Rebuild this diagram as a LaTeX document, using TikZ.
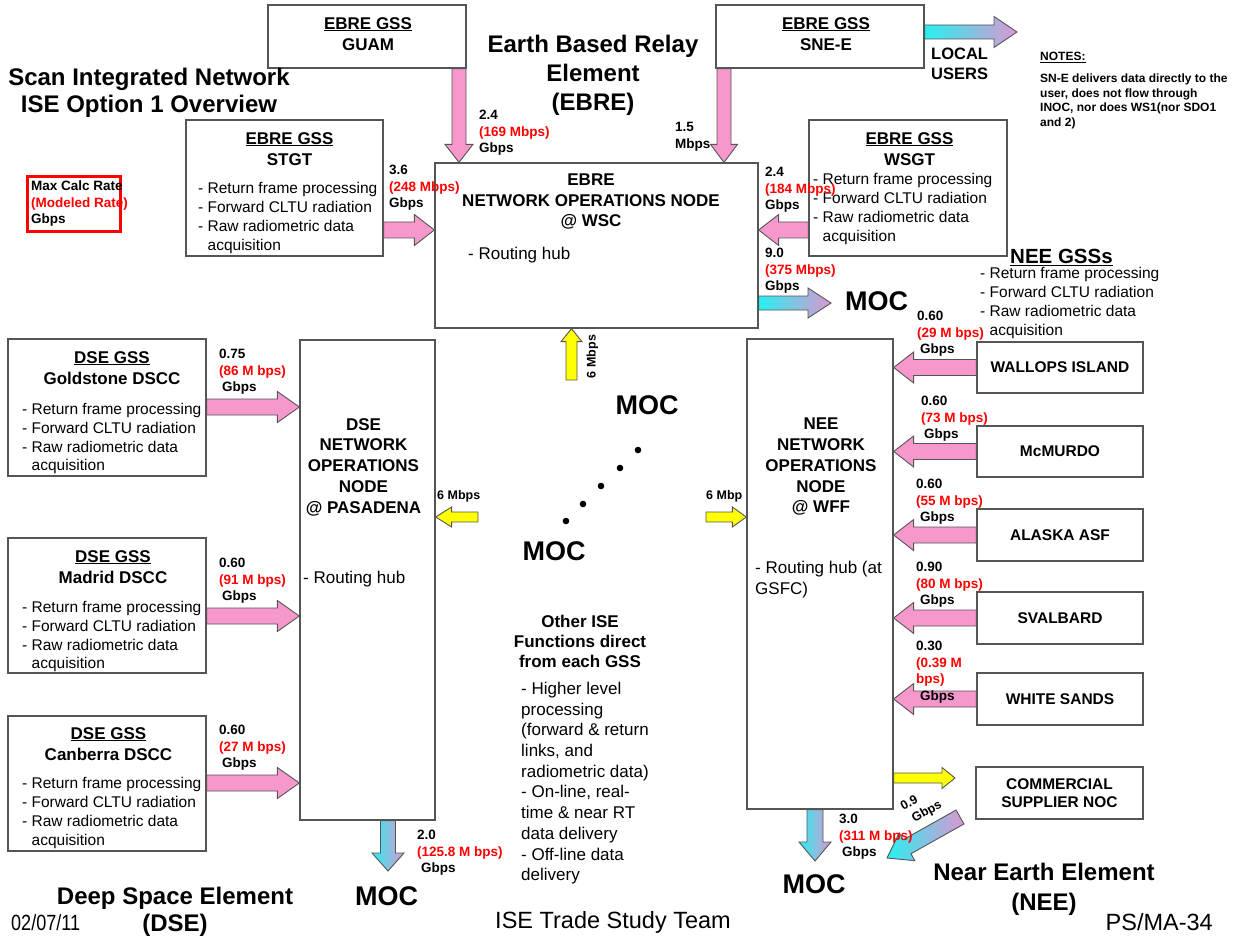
\documentclass[tikz,border=0pt]{standalone}
\usepackage{fontspec}
\setmainfont{Liberation Sans}
\usetikzlibrary{calc}

\definecolor{boxgray}{RGB}{85,85,85}
\definecolor{arrpink}{RGB}{247,152,204}
\definecolor{arrcyan}{RGB}{40,240,240}
\definecolor{arrlilac}{RGB}{220,150,210}
\definecolor{arryel}{RGB}{255,255,0}

\newcommand{\rd}[1]{\textcolor{red}{#1}}
% block arrow: [style]{from}{to}{shaft half}{head half}{head length}
\newcommand{\blk}[6][pinkarr]{%
  \coordinate (bt) at (#2);
  \coordinate (bh) at (#3);
  \coordinate (bb) at ($(bh)!#6!(bt)$);
  \draw[#1] ($(bt)!#4!90:(bh)$) -- ($(bb)!#4!-90:(bt)$)
    -- ($(bb)!#5!-90:(bt)$) -- (bh) -- ($(bb)!#5!90:(bt)$)
    -- ($(bb)!#4!90:(bt)$) -- ($(bt)!#4!-90:(bh)$) -- cycle;
}

\tikzset{pix/.style={x=1pt,y=-1pt}}
\tikzset{gss/.style={
  draw=boxgray,
  fill=white,
  line width=1.3pt,
  inner sep=0pt,
}}
\tikzset{hd/.style={font=\fontsize{17}{21}\selectfont\bfseries, align=center, inner sep=0pt, anchor=north}}
\tikzset{bul/.style={font=\fontsize{15.5}{19}\selectfont, align=left, inner sep=0pt, anchor=north west}}
\tikzset{txt/.style={font=\fontsize{17}{20.7}\selectfont, align=left, inner sep=0pt, anchor=north west}}
\tikzset{rate/.style={font=\fontsize{13.5}{16.5}\selectfont\bfseries, align=left, inner sep=0pt, anchor=north west}}
\tikzset{site/.style={font=\fontsize{15.5}{17.5}\selectfont\bfseries, align=center, inner sep=0pt}}
\tikzset{big/.style={font=\fontsize{24}{27}\selectfont\bfseries, align=center, inner sep=0pt, anchor=north}}
\tikzset{moc/.style={font=\fontsize{27}{32}\selectfont\bfseries, inner sep=0pt}}
\tikzset{sml/.style={font=\fontsize{12.5}{15}\selectfont\bfseries, align=left, inner sep=0pt}}
\tikzset{foot/.style={font=\fontsize{23.5}{28}\selectfont, inner sep=0pt}}
\tikzset{pinkarr/.style={draw=boxgray, fill=arrpink, line width=0.9pt}}
\tikzset{yelarr/.style={draw=boxgray, fill=arryel, line width=0.9pt}}
\tikzset{gradarr/.style={draw=boxgray, left color=arrcyan, right color=arrlilac, line width=0.9pt}}

\begin{document}
\begin{tikzpicture}[pix]
  \fill[white] (0,0) rectangle (1237,936);
  \useasboundingbox (0,0) rectangle (1237,936);

  %% Boxes

  % EBRE ground stations and node
  \node[gss, minimum width=198, minimum height=63] (guam) at (367,36.5) {};
  \node[gss, minimum width=208, minimum height=63] (snee) at (820,36.5) {};
  \node[gss, minimum width=197, minimum height=136] (stgt) at (284.5,188) {};
  \node[gss, minimum width=198, minimum height=136] (wsgt) at (908,188) {};
  \node[gss, minimum width=323, minimum height=165] (ebre) at (596.5,245.5) {};

  % DSE
  \node[gss, minimum width=135, minimum height=480] (dse) at (367.5,580) {};
  \node[gss, minimum width=198, minimum height=137] (gold) at (107,407.5) {};
  \node[gss, minimum width=198, minimum height=135] (madr) at (107,605.5) {};
  \node[gss, minimum width=198, minimum height=135] (canb) at (107,783.5) {};

  % NEE
  \node[gss, minimum width=146, minimum height=470] (nee) at (820,574) {};
  \node[gss, minimum width=166, minimum height=51] (wall) at (1060,367.5) {};
  \node[gss, minimum width=166, minimum height=51] (mcm) at (1060,451.5) {};
  \node[gss, minimum width=166, minimum height=52] (ask) at (1060,535) {};
  \node[gss, minimum width=166, minimum height=52] (sval) at (1060,618) {};
  \node[gss, minimum width=166, minimum height=52] (wsnd) at (1060,699) {};
  \node[gss, minimum width=167, minimum height=52] (comm) at (1059.5,793) {};

  % legend
  \node[draw=red, line width=3pt, minimum width=93, minimum height=55, inner sep=0pt] (leg) at (73.5,204.5) {};

  %% Block arrows

  \blk{459,0 |- guam.south}{459,0 |- ebre.north}{7pt}{14pt}{18pt}
  \blk{724,0 |- snee.south}{724,0 |- ebre.north}{7pt}{13.5pt}{18pt}
  \coordinate (lusr) at (1017,32);
  \blk[gradarr]{snee.east |- 0,32}{lusr}{7pt}{15.5pt}{23pt}
  \blk{stgt.east |- 0,230}{ebre.west |- 0,230}{8pt}{15.5pt}{20pt}
  \blk{wsgt.west |- 0,230}{ebre.east |- 0,230}{8pt}{15.5pt}{20pt}
  \coordinate (moce) at (831,303);
  \blk[gradarr]{ebre.east |- 0,303}{moce}{7pt}{15pt}{23pt}

  % yellow links between nodes
  \coordinate (yu) at (571.5,380);
  \blk[yelarr]{yu}{571.5,0 |- ebre.south}{5.5pt}{10.5pt}{13pt}
  \coordinate (yl) at (478,517);
  \blk[yelarr]{yl}{dse.east |- 0,517}{5pt}{10pt}{16pt}
  \coordinate (yr) at (706,517);
  \blk[yelarr]{yr}{nee.west |- 0,517}{5pt}{10pt}{14pt}
  \coordinate (yc) at (955,778);
  \blk[yelarr]{nee.east |- 0,778}{yc}{5pt}{10.5pt}{13pt}

  % DSE stations
  \blk{gold.east |- 0,407}{dse.west |- 0,407}{8pt}{15.5pt}{22pt}
  \blk{madr.east |- 0,616}{dse.west |- 0,616}{8pt}{15.5pt}{22pt}
  \blk{canb.east |- 0,783}{dse.west |- 0,783}{8pt}{15.5pt}{22pt}

  % NEE stations
  \foreach \s in {wall,mcm,ask,sval,wsnd}{
    \blk{\s.west}{nee.east |- \s.west}{8pt}{15.5pt}{20pt}
  }

  % to the MOCs
  \coordinate (mocd) at (388,871);
  \blk[gradarr]{388,0 |- dse.south}{mocd}{7.5pt}{16pt}{18pt}
  \coordinate (mocn) at (815,861);
  \blk[gradarr]{815,0 |- nee.south}{mocn}{8pt}{16pt}{19pt}
  \coordinate (ctl) at (960,817);
  \coordinate (ctp) at (887,858);
  \blk[gradarr]{ctl}{ctp}{8pt}{16pt}{23pt}

  %% Texts in boxes

  \node[hd] (guamt) at (368,17) {\underline{EBRE GSS}\\GUAM};
  \node[hd] (sneet) at (826,17) {\underline{EBRE GSS}\\SNE-E};
  \node[hd] (stgtt) at (289.5,132) {\underline{EBRE GSS}\\STGT};
  \node[bul] (stgtl) at (198,182.4) {- Return frame processing\\- Forward CLTU radiation\\- Raw radiometric data\\\phantom{- }acquisition};
  \node[hd] (wsgtt) at (909.5,132) {\underline{EBRE GSS}\\WSGT};
  \node[bul] (wsgtl) at (813,173.4) {- Return frame processing\\- Forward CLTU radiation\\- Raw radiometric data\\\phantom{- }acquisition};
  \node[hd, font=\fontsize{17}{20.5}\selectfont\bfseries] (ebret) at (591,174) {EBRE\\NETWORK OPERATIONS NODE\\@ WSC};
  \node[txt] (ebrel) at (468,247) {- Routing hub};

  \node[hd, font=\fontsize{17}{20.75}\selectfont\bfseries] (dset) at (363.5,418) {DSE\\NETWORK\\OPERATIONS\\NODE\\@ PASADENA};
  \node[txt] (dsel) at (303,571) {- Routing hub};
  \node[hd, font=\fontsize{17}{20.75}\selectfont\bfseries] (neet) at (821,418) {NEE\\NETWORK\\OPERATIONS\\NODE\\@ WFF};
  \node[txt, font=\fontsize{17}{21}\selectfont] (neel) at (755,561) {- Routing hub (at\\GSFC)};

  \node[hd] (goldt) at (112,351) {\underline{DSE GSS}\\Goldstone DSCC};
  \node[bul, font=\fontsize{15.5}{18.7}\selectfont] (goldl) at (22,403.4) {- Return frame processing\\- Forward CLTU radiation\\- Raw radiometric data\\\phantom{- }acquisition};
  \node[hd] (madrt) at (113,550) {\underline{DSE GSS}\\Madrid DSCC};
  \node[bul, font=\fontsize{15.5}{18.7}\selectfont] (madrl) at (22,601.4) {- Return frame processing\\- Forward CLTU radiation\\- Raw radiometric data\\\phantom{- }acquisition};
  \node[hd] (canbt) at (108.5,727) {\underline{DSE GSS}\\Canberra DSCC};
  \node[bul] (canbl) at (22,777.4) {- Return frame processing\\- Forward CLTU radiation\\- Raw radiometric data\\\phantom{- }acquisition};

  \node[site] (wallt) at (wall) {WALLOPS ISLAND};
  \node[site] (mcmt) at (mcm) {McMURDO};
  \node[site] (askt) at (ask) {ALASKA ASF};
  \node[site] (svalt) at (sval) {SVALBARD};
  \node[site] (wsndt) at (wsnd) {WHITE SANDS};
  \node[site] (commt) at (comm) {COMMERCIAL\\SUPPLIER NOC};

  %% Rates

  \node[rate] (r1) at (479,110.1) {2.4\\\rd{(169 Mbps)}\\Gbps};
  \node[rate] (r2) at (675,122.1) {1.5\\Mbps};
  \node[rate] (r3) at (389,165.1) {3.6\\\rd{(248 Mbps)}\\Gbps};
  \node[rate] (r4) at (765,167.1) {2.4\\\rd{(184 Mbps)}\\Gbps};
  \node[rate] (r5) at (765,248.1) {9.0\\\rd{(375 Mbps)}\\Gbps};
  \node[rate] (r6) at (219,349.1) {0.75\\\rd{(86 M bps)}\\\hspace*{3pt}Gbps};
  \node[rate] (r7) at (219,558.1) {0.60\\\rd{(91 M bps)}\\\hspace*{3pt}Gbps};
  \node[rate] (r8) at (219,725.1) {0.60\\\rd{(27 M bps)}\\\hspace*{3pt}Gbps};
  \node[rate] (r9) at (417,830.1) {2.0\\\rd{(125.8 M bps)}\\\hspace*{4pt}Gbps};
  \node[rate] (r10) at (917,311.1) {0.60\\\rd{(29 M bps)}\\\hspace*{3pt}Gbps};
  \node[rate] (r11) at (921,396.1) {0.60\\\rd{(73 M bps)}\\\hspace*{3pt}Gbps};
  \node[rate] (r12) at (916,479.1) {0.60\\\rd{(55 M bps)}\\\hspace*{4pt}Gbps};
  \node[rate] (r13) at (916,562.1) {0.90\\\rd{(80 M bps)}\\\hspace*{4pt}Gbps};
  \node[rate] (r14) at (916,641.1) {0.30\\\rd{(0.39 M}\\\rd{bps)}\\\hspace*{4pt}Gbps};
  \node[rate] (r15) at (839,814.1) {3.0\\\rd{(311 M bps)}\\\hspace*{3pt}Gbps};

  \node[sml, anchor=west] (y1) at (437,496) {6 Mbps};
  \node[sml, anchor=west] (y2) at (706,496) {6 Mbp};
  \node[sml, rotate=90] (y3) at (592.5,356.5) {6 Mbps};
  \node[sml, rotate=29] (y4) at (909,803) {0.9};
  \node[sml, rotate=29] (y5) at (927,812) {Gbps};

  %% Titles and notes

  \node[big] (ttl) at (149,68.4) {Scan Integrated Network\\ISE Option 1 Overview};
  \node[big, font=\fontsize{24}{29}\selectfont\bfseries] (ebrettl) at (593,35.4) {Earth Based Relay\\Element\\(EBRE)};
  \node[rate, font=\fontsize{16.5}{20}\selectfont\bfseries] (lu) at (931,48) {LOCAL\\USERS};
  \node[rate, font=\fontsize{12}{14.7}\selectfont\bfseries] (notes) at (1040,51.7) {\underline{NOTES:}};
  \node[rate, font=\fontsize{12}{14.7}\selectfont\bfseries] (notet) at (1040,73.7) {SN-E delivers data directly to the\\user, does not flow through\\INOC, nor does WS1(nor SDO1\\and 2)};
  \node[rate] (legt) at (31,181) {Max Calc Rate\\\rd{(Modeled Rate)}\\Gbps};

  \node[rate, font=\fontsize{20.5}{24}\selectfont\bfseries] (neegss) at (1010,248.6) {\underline{NEE GSSs}};
  \node[bul] (neegl) at (980,267.4) {- Return frame processing\\- Forward CLTU radiation\\- Raw radiometric data\\\phantom{- }acquisition};

  \node[hd, font=\fontsize{17}{20}\selectfont\bfseries] (oth) at (580,614.9) {Other ISE\\Functions direct\\from each GSS};
  \node[txt] (othl) at (521,681.9) {- Higher level\\processing\\(forward \& return\\links, and\\radiometric data)\\- On-line, real-\\time \& near RT\\data delivery\\- Off-line data\\delivery};

  % MOCs and dots
  \node[moc] (moc1) at (876.5,301) {MOC};
  \node[moc] (moc2) at (647,405.5) {MOC};
  \node[moc] (moc3) at (554,551) {MOC};
  \node[moc] (moc4) at (386.7,896) {MOC};
  \node[moc] (moc5) at (814,884.5) {MOC};
  \foreach \px/\py in {566/521,583/504,601/486,620/468,638/450}
    \fill (\px,\py) circle (3.3pt);

  % element names and footer
  \node[big] (dsettl) at (175,887.4) {Deep Space Element\\(DSE)};
  \node[big, font=\fontsize{24}{30}\selectfont\bfseries] (neettl) at (1044,863.4) {Near Earth Element\\(NEE)};
  \node[foot, font=\fontsize{22}{26}\selectfont, anchor=west] (date) at (11,923) {\scalebox{0.82}[1]{02/07/11}};
  \node[foot] (team) at (613,922) {ISE Trade Study Team};
  \node[foot, anchor=east] (pg) at (1213,922) {PS/MA-34};

\end{tikzpicture}
\end{document}
